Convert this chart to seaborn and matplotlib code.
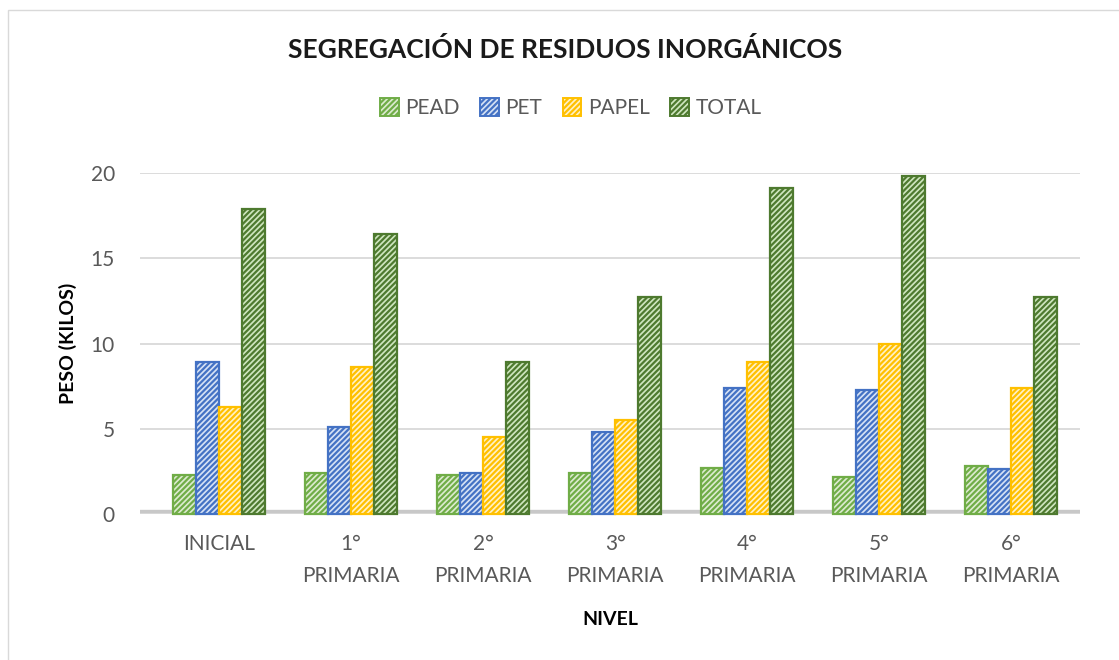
import matplotlib
matplotlib.use("Agg")
import numpy as np
import pandas as pd
import seaborn as sns
from matplotlib import pyplot
from matplotlib.patches import Patch, Rectangle

niveles = ["INICIAL", "1°\nPRIMARIA", "2°\nPRIMARIA", "3°\nPRIMARIA",
           "4°\nPRIMARIA", "5°\nPRIMARIA", "6°\nPRIMARIA"]
tipos = ["PEAD", "PET", "PAPEL", "TOTAL"]
pead = [2.3, 2.4, 2.3, 2.4, 2.7, 2.2, 2.85]
pet = [8.9, 5.1, 2.4, 4.8, 7.4, 7.3, 2.65]
papel = [6.3, 8.6, 4.5, 5.5, 8.9, 10.0, 7.4]
total = [17.9, 16.4, 8.9, 12.7, 19.1, 19.8, 12.7]

caras = ["#dcebd0", "#d6e2f5", "#fff1c6", "#cfe6bf"]
bordes = ["#70ad47", "#4472c4", "#ffc000", "#4e7a2f"]

sns.set_theme(style="white")
pyplot.rcParams['font.family'] = ['Lato', 'DejaVu Sans']
pyplot.rcParams['hatch.linewidth'] = 1.6

df = pd.DataFrame({
    "nivel": niveles * 4,
    "tipo": np.repeat(tipos, len(niveles)),
    "peso": pead + pet + papel + total,
})

fig = pyplot.figure(figsize=(11.19, 6.6), dpi=100)
ax = fig.add_axes([0.125, 0.221, 0.84, 0.517])

sns.barplot(data=df, x="nivel", y="peso", hue="tipo", order=niveles, hue_order=tipos,
            palette=caras, width=0.7, gap=0, ax=ax, legend=False, saturation=1)

for cont, borde in zip(ax.containers, bordes):
    for bar in cont:
        bar.set_edgecolor(borde)
        bar.set_linewidth(1.6)
        bar.set_hatch("//////")
        bar.set_clip_on(False)

ax.set_ylim(0, 20)
ax.set_xlim(-0.6, 6.52)
ax.set_yticks([0, 5, 10, 15, 20])
ax.yaxis.grid(True, color="#d9d9d9", lw=1.3)
ax.set_axisbelow(True)
ax.axhline(0, color="#c8c8c8", lw=6, zorder=0.5)
for s in ax.spines.values():
    s.set_visible(False)
ax.tick_params(axis="both", length=0, labelsize=15, labelcolor="#595959")
ax.tick_params(axis="x", pad=14)
ax.tick_params(axis="y", pad=18)
for lbl in ax.get_xticklabels():
    lbl.set_linespacing(1.75)
ax.set_xlabel("NIVEL", fontsize=14, fontweight="bold", color="black", labelpad=18)
ax.set_ylabel("PESO (KILOS)", fontsize=14, fontweight="bold", color="black", labelpad=10)

fig.text(0.505, 0.925, "SEGREGACIÓN DE RESIDUOS INORGÁNICOS", ha="center", va="center",
         fontsize=19, fontweight="bold", color="#1a1a1a")

handles = [Patch(facecolor=c, edgecolor=b, hatch="//////", lw=1.4) for c, b in zip(caras, bordes)]
fig.legend(handles, tipos, loc="center", bbox_to_anchor=(0.51, 0.836), ncol=4, frameon=False,
           fontsize=15, handlelength=0.9, handleheight=0.9, handletextpad=0.3, columnspacing=1.0,
           labelcolor="#595959")

fig.patches.append(Rectangle((0.007, -0.02), 1.1, 1.005, transform=fig.transFigure,
                             fill=False, edgecolor="#d9d9d9", lw=1))

pyplot.savefig("out.png", dpi=100)
pyplot.close()
